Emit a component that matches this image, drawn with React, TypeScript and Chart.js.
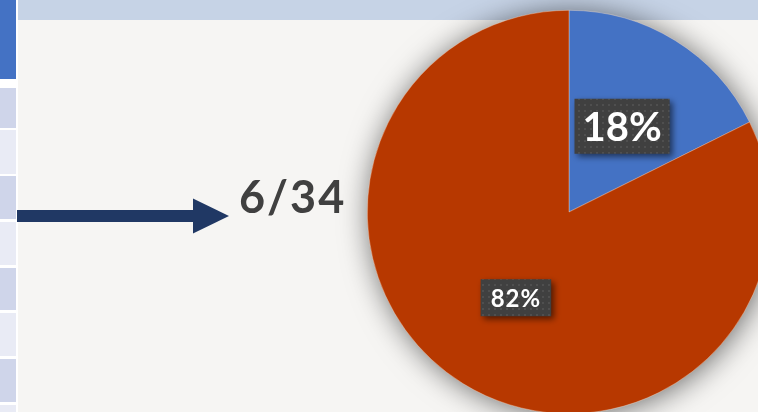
import React, { useEffect, useRef } from "react";
import { Chart, registerables } from "chart.js";

Chart.register(...registerables);

const categories = ["Selected", "Others"];
const values = [6, 28];
const sliceColors = ["#4472c4", "#b73800"];
const labelFontSizes = [40, 24];
const labelPadX = [8, 10];
const labelBoxH = [55, 37];

const tableCells: [number, number, string][] = [
  [0, 79, "#4472c4"],
  [88, 127.5, "#cfd5ea"],
  [130, 173.5, "#e9ebf5"],
  [176, 219, "#cfd5ea"],
  [222, 265, "#e9ebf5"],
  [267.5, 310, "#cfd5ea"],
  [313, 356, "#e9ebf5"],
  [358.5, 401.5, "#cfd5ea"],
  [404.5, 420, "#e9ebf5"],
];

const total = values.reduce((a, b) => a + b, 0);

function makePattern(ctx: CanvasRenderingContext2D) {
  const c = document.createElement("canvas");
  c.width = 6;
  c.height = 6;
  const p = c.getContext("2d")!;
  p.fillStyle = "#404040";
  p.fillRect(0, 0, 6, 6);
  p.fillStyle = "#4f4f4f";
  p.fillRect(2, 2, 2, 2);
  return ctx.createPattern(c, "repeat");
}

const decorPlugin = {
  id: "decor",
  beforeDatasetsDraw(chart: any) {
    const ctx: CanvasRenderingContext2D = chart.ctx;
    const meta = chart.getDatasetMeta(0);
    const arc = meta.data[0];
    if (!arc) return;
    const { x, y, outerRadius } = arc.getProps(["x", "y", "outerRadius"], true);
    // arrow
    ctx.save();
    ctx.fillStyle = "#203864";
    const ay = y + 4;
    ctx.fillRect(17, ay - 6, 176, 12);
    ctx.beginPath();
    ctx.moveTo(193, ay - 17.5);
    ctx.lineTo(229, ay);
    ctx.lineTo(193, ay + 17.5);
    ctx.closePath();
    ctx.fill();
    // fraction text
    ctx.fillStyle = "#404040";
    ctx.font = "bold 45px Lato";
    (ctx as any).letterSpacing = "2px";
    ctx.textBaseline = "alphabetic";
    ctx.textAlign = "left";
    ctx.fillText(`${values[0]}/${total}`, 239, 213);
    ctx.restore();
    // pie shadow
    ctx.save();
    ctx.shadowColor = "rgba(0,0,0,0.6)";
    ctx.shadowBlur = 30;
    ctx.shadowOffsetX = 2;
    ctx.shadowOffsetY = 2;
    ctx.fillStyle = sliceColors[1];
    ctx.beginPath();
    ctx.arc(x, y, outerRadius - 1, 0, Math.PI * 2);
    ctx.fill();
    ctx.restore();
  },
  afterDatasetsDraw(chart: any) {
    const ctx: CanvasRenderingContext2D = chart.ctx;
    const meta = chart.getDatasetMeta(0);
    const pattern = makePattern(ctx);
    meta.data.forEach((arc: any, i: number) => {
      const pos = arc.tooltipPosition(true);
      const pct = Math.round((values[i] / total) * 100) + "%";
      const fs = labelFontSizes[i];
      ctx.save();
      ctx.font = `bold ${fs}px Lato`;
      (ctx as any).letterSpacing = i === 0 ? "0px" : "1px";
      const m = ctx.measureText(pct);
      const w = m.width + labelPadX[i] * 2;
      const h = labelBoxH[i];
      const bx = pos.x - w / 2;
      const by = pos.y - h / 2;
      ctx.shadowColor = "rgba(0,0,0,0.55)";
      ctx.shadowBlur = 6;
      ctx.shadowOffsetX = 3;
      ctx.shadowOffsetY = 3;
      ctx.fillStyle = pattern || "#404040";
      ctx.fillRect(bx, by, w, h);
      ctx.shadowColor = "transparent";
      ctx.fillStyle = "#ffffff";
      ctx.textAlign = "left";
      ctx.textBaseline = "alphabetic";
      const asc = m.actualBoundingBoxAscent;
      const desc = m.actualBoundingBoxDescent;
      const baseY = pos.y + (asc - desc) / 2;
      ctx.fillText(pct, pos.x - m.width / 2, baseY);
      ctx.restore();
    });
  },
};

export default function App() {
  const ref = useRef<HTMLCanvasElement>(null);
  useEffect(() => {
    if (!ref.current) return;
    const chart = new Chart(ref.current, {
      type: "pie",
      data: {
        labels: categories,
        datasets: [
          {
            data: values,
            backgroundColor: sliceColors,
            borderColor: "rgba(255,230,210,0.6)",
            borderWidth: 0.6,
          },
        ],
      },
      options: {
        responsive: false,
        animation: false,
        devicePixelRatio: 1,
        layout: { padding: { left: 367, top: 10, right: 9, bottom: 16 } },
        plugins: { legend: { display: false }, tooltip: { enabled: false } },
      },
      plugins: [decorPlugin],
    });
    return () => chart.destroy();
  }, []);

  return (
    <div
      style={{
        position: "fixed",
        left: 0,
        top: 0,
        width: 758,
        height: 412,
        overflow: "hidden",
        background: "#ffffff",
      }}
    >
      <div
        style={{
          position: "absolute",
          left: 18,
          top: 0,
          right: 0,
          bottom: 0,
          background: "#f6f5f3",
        }}
      />
      <div
        style={{
          position: "absolute",
          left: 18,
          top: 0,
          right: 0,
          height: 20,
          background: "#c6d3e6",
        }}
      />
      {tableCells.map(([t, b, c], i) => (
        <div
          key={i}
          style={{
            position: "absolute",
            left: 0,
            top: t,
            width: 16,
            height: b - t,
            background: c,
          }}
        />
      ))}
      <canvas
        ref={ref}
        width={780}
        height={430}
        style={{ position: "absolute", left: 0, top: 0, width: 780, height: 430 }}
      />
    </div>
  );
}
